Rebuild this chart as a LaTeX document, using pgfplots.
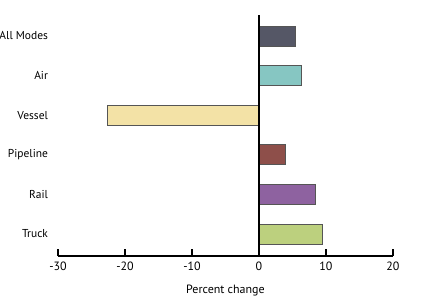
\documentclass[border=0pt]{standalone}
\usepackage{pgfplots}
\pgfplotsset{compat=1.18}
\usepackage{fontspec}
\setmainfont{PT Sans}
\definecolor{cAll}{HTML}{555766}
\definecolor{cAir}{HTML}{86C6C2}
\definecolor{cVes}{HTML}{F3E2A6}
\definecolor{cPip}{HTML}{8E4F4A}
\definecolor{cRail}{HTML}{8E62A0}
\definecolor{cTruck}{HTML}{BCD07E}
\definecolor{edge}{HTML}{555555}
\begin{document}
\begin{tikzpicture}[x=1pt,y=1pt]
\useasboundingbox (0,0) rectangle (327,225);
\begin{axis}[
  at={(43.5pt,33pt)}, anchor=south west,
  scale only axis, width=251.25pt, height=180.75pt,
  xmin=-30, xmax=20, ymin=-0.555, ymax=5.53,
  axis x line=bottom, axis y line=left,
  x axis line style={black, line width=0.8pt, -},
  y axis line style={draw=none},
  xtick={-30,-20,-10,0,10,20},
  tick align=inside, major tick length=5pt,
  x tick style={black, line width=0.8pt},
  y tick style={draw=none},
  xticklabel style={font=\fontsize{9}{10}\selectfont, yshift=-1pt},
  yticklabel style={font=\fontsize{8.6}{10}\selectfont, xshift=1pt},
  /pgf/number format/assume math mode=true,
  xlabel={Percent change},
  xlabel style={font=\fontsize{9}{10}\selectfont, yshift=-4pt},
  ytick={0,1,2,3,4,5},
  yticklabels={Truck,Rail,Pipeline,Vessel,Air,All Modes},
  clip=false,
  xbar, bar width=15pt, bar shift=0pt,
  every axis plot/.append style={draw=edge, line width=0.6pt},
]
\addplot[fill=cTruck] coordinates {(9.4,0)};
\addplot[fill=cRail] coordinates {(8.4,1)};
\addplot[fill=cPip] coordinates {(4.0,2)};
\addplot[fill=cVes] coordinates {(-22.7,3)};
\addplot[fill=cAir] coordinates {(6.4,4)};
\addplot[fill=cAll] coordinates {(5.5,5)};
\draw[black, line width=0.8pt] (axis cs:0,-0.555) -- (axis cs:0,5.53);
\end{axis}
\end{tikzpicture}
\end{document}
